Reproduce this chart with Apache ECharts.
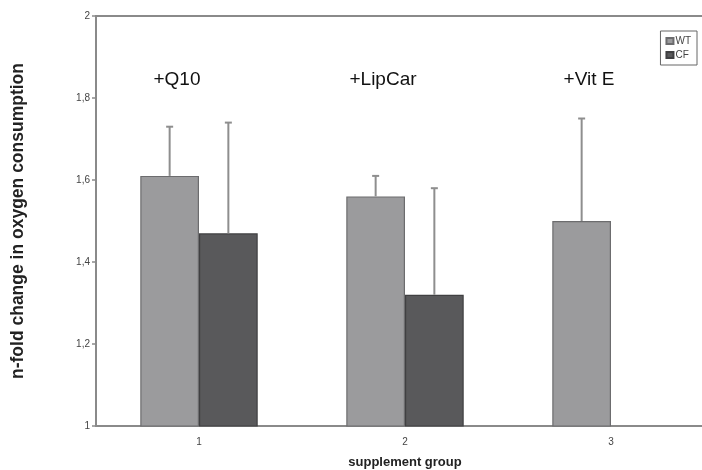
<!DOCTYPE html>
<html>
<head>
<meta charset="utf-8">
<script src="https://cdn.jsdelivr.net/npm/echarts@6/dist/echarts.min.js"></script>
<style>
  html, body { margin: 0; padding: 0; background: #fff; }
  #chart { width: 702px; height: 470px; }
</style>
</head>
<body>
<div id="chart"></div>
<script>
// Oxygen consumption fold-change per supplement group
const groups = ['1', '2', '3'];
const groupNames = ['+Q10', '+LipCar', '+Vit E'];
const wtValues = [1.61, 1.56, 1.50];
const cfValues = [1.47, 1.32, null];
// upper end of each error bar
const wtUpper = [1.73, 1.61, 1.75];
const cfUpper = [1.74, 1.58, null];
const yTicks = [1, 1.2, 1.4, 1.6, 1.8, 2];

const FONT = '"Liberation Sans", Arial, sans-serif';
const CAT_GAP = 0.43;           // share of the category left empty
const WT_COLOR = '#9b9b9d';
const CF_COLOR = '#59595b';
const ERR_COLOR = '#8e8e8e';

// draws an upward error whisker with a cap above one bar of the pair
function errorBars(upper, values, side) {
  return {
    type: 'custom',
    silent: true,
    z: 3,
    data: upper.map((u, i) => [i, values[i], u]),
    renderItem: function (params, api) {
      if (api.value(2) == null || isNaN(api.value(2))) return null;
      const catW = api.size([1, 0])[0];
      const barW = catW * (1 - CAT_GAP) / 2;
      const base = api.coord([api.value(0), api.value(1)]);
      const top = api.coord([api.value(0), api.value(2)]);
      const x = base[0] + side * barW / 2;
      const style = { stroke: ERR_COLOR, lineWidth: 2 };
      return {
        type: 'group',
        children: [
          { type: 'line', shape: { x1: x, y1: base[1], x2: x, y2: top[1] }, style: style },
          { type: 'line', shape: { x1: x - 3.5, y1: top[1], x2: x + 3.5, y2: top[1] }, style: style }
        ]
      };
    }
  };
}

const chart = echarts.init(document.getElementById('chart'));
chart.setOption({
  animation: false,
  backgroundColor: '#fff',
  textStyle: { fontFamily: FONT },
  grid: {
    left: 96, top: 16, width: 618, height: 410,
    outerBoundsMode: 'none',
    show: true, borderColor: '#8a8a8a', borderWidth: 2, backgroundColor: 'transparent'
  },
  legend: {
    data: ['WT', 'CF'],
    orient: 'vertical',
    right: 5, top: 31,
    padding: [5, 6, 5, 5],
    itemGap: 4,
    itemWidth: 7, itemHeight: 6,
    borderColor: '#666', borderWidth: 1,
    textStyle: { fontSize: 10, color: '#444', fontFamily: FONT, padding: [0, 0, 0, -3] },
    icon: 'rect'
  },
  xAxis: {
    type: 'category',
    data: groups,
    name: 'supplement group',
    nameLocation: 'middle',
    nameGap: 30,
    nameTextStyle: { fontSize: 13, fontWeight: 'bold', color: '#222', fontFamily: FONT },
    axisLine: { lineStyle: { color: '#8a8a8a', width: 2 } },
    axisTick: { length: 4, lineStyle: { color: '#8a8a8a', width: 1.5 } },
    axisLabel: { fontSize: 10, color: '#444', margin: 11 }
  },
  yAxis: {
    type: 'value',
    min: yTicks[0], max: yTicks[yTicks.length - 1], interval: 0.2,
    name: 'n-fold change in oxygen consumption',
    nameLocation: 'middle',
    nameRotate: 90,
    nameGap: 69,
    nameTextStyle: { fontSize: 17.5, fontWeight: 'bold', color: '#222', fontFamily: FONT },
    splitLine: { show: false },
    axisLine: { show: true, lineStyle: { color: '#8a8a8a', width: 2 } },
    axisTick: { show: true, length: 4, lineStyle: { color: '#8a8a8a', width: 1.5 } },
    axisLabel: {
      fontSize: 10, color: '#444', margin: 6,
      formatter: v => String(Math.round(v * 10) / 10).replace('.', ',')
    }
  },
  series: [
    {
      name: 'WT', type: 'bar', data: wtValues,
      barGap: '0%', barCategoryGap: (CAT_GAP * 100) + '%',
      itemStyle: { color: WT_COLOR, borderColor: '#6c6c6e', borderWidth: 1.2 }
    },
    {
      name: 'CF', type: 'bar', data: cfValues,
      itemStyle: { color: CF_COLOR, borderColor: '#404042', borderWidth: 1.2 }
    },
    errorBars(wtUpper, wtValues, -1),
    errorBars(cfUpper, cfValues, 1),
    {
      // supplement names written above each pair of bars
      type: 'custom',
      silent: true,
      data: groupNames.map((n, i) => [i, 1.844]),
      renderItem: function (params, api) {
        const p = api.coord([api.value(0), api.value(1)]);
        return {
          type: 'text',
          style: {
            text: groupNames[params.dataIndex],
            x: p[0] - 22, y: p[1],
            textAlign: 'center', textVerticalAlign: 'middle',
            font: '19px ' + FONT, fill: '#111'
          }
        };
      }
    }
  ]
});
</script>
</body>
</html>
